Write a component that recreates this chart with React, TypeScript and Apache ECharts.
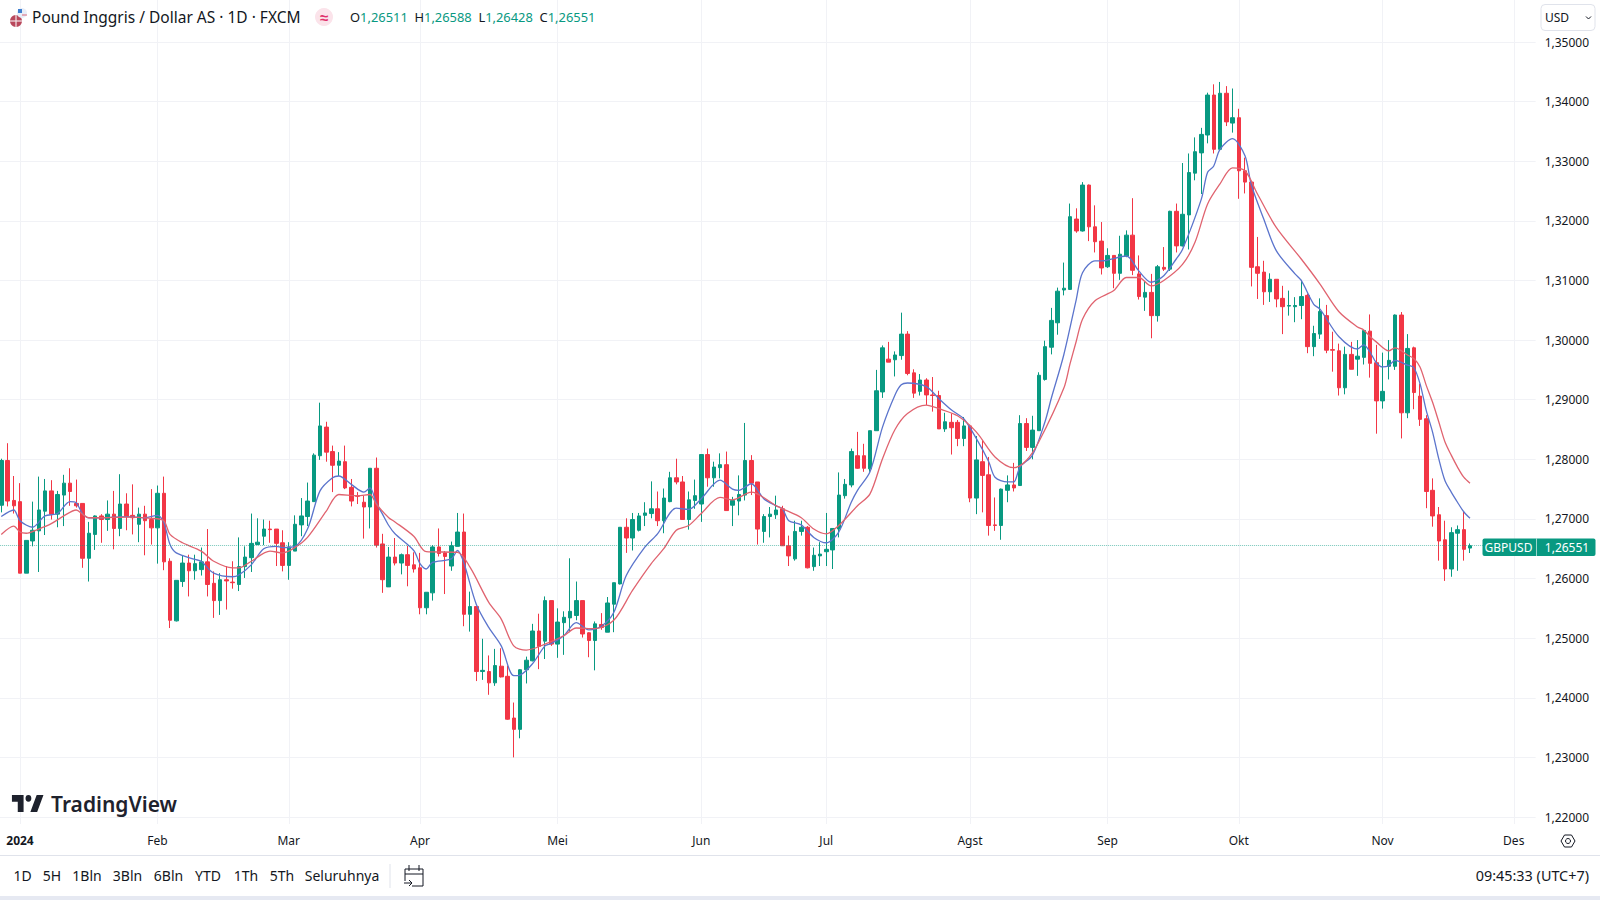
import React, { useEffect, useRef } from "react";
import * as echarts from "echarts";

const FONT = "'Noto Sans', sans-serif";
const UP = "#089981";
const DOWN = "#f23645";
const FAST = "#5b74cc";
const SLOW = "#e0636f";
const GRID = "#f1f2f6";
const INK = "#131722";

// [open, high, low, close], one row per trading day, first row = 27 Dec 2023
const ohlc: number[][] = [
  [1.2723,1.2801,1.2711,1.2798],[1.2798,1.2827,1.2721,1.2730],[1.2731,1.2772,1.2709,1.2722],
  // Jan
  [1.2729,1.2760,1.2609,1.2609],[1.2609,1.2664,1.2609,1.2664],[1.2663,1.2729,1.2654,1.2681],[1.2680,1.2771,1.2611,1.2715],
  [1.2713,1.2767,1.2673,1.2747],[1.2747,1.2765,1.2699,1.2708],[1.2708,1.2747,1.2686,1.2741],[1.2740,1.2774,1.2688,1.2760],
  [1.2760,1.2785,1.2722,1.2746],[1.2726,1.2766,1.2719,1.2722],[1.2726,1.2726,1.2618,1.2634],[1.2634,1.2695,1.2595,1.2676],
  [1.2674,1.2706,1.2648,1.2705],[1.2705,1.2708,1.2660,1.2699],[1.2699,1.2731,1.2680,1.2708],[1.2708,1.2747,1.2649,1.2684],
  [1.2684,1.2775,1.2671,1.2725],[1.2725,1.2743,1.2681,1.2704],[1.2706,1.2758,1.2674,1.2702],[1.2691,1.2719,1.2661,1.2708],
  // Feb
  [1.2708,1.2722,1.2639,1.2697],[1.2699,1.2750,1.2657,1.2685],[1.2685,1.2756,1.2625,1.2743],[1.2743,1.2771,1.2614,1.2628],
  [1.2629,1.2634,1.2517,1.2530],[1.2529,1.2597,1.2528,1.2597],[1.2595,1.2639,1.2586,1.2626],[1.2626,1.2640,1.2570,1.2613],
  [1.2613,1.2640,1.2598,1.2625],[1.2615,1.2652,1.2605,1.2628],[1.2628,1.2683,1.2570,1.2590],[1.2592,1.2612,1.2534,1.2563],
  [1.2563,1.2609,1.2539,1.2598],[1.2598,1.2621,1.2548,1.2596],[1.2594,1.2629,1.2583,1.2593],[1.2590,1.2669,1.2579,1.2620],
  [1.2620,1.2654,1.2601,1.2636],[1.2635,1.2709,1.2611,1.2659],[1.2657,1.2701,1.2656,1.2661],[1.2671,1.2699,1.2656,1.2683],
  [1.2683,1.2697,1.2660,1.2682],
  // Mar
  [1.2683,1.2683,1.2621,1.2659],[1.2660,1.2681,1.2612,1.2622],[1.2622,1.2661,1.2598,1.2653],[1.2646,1.2706,1.2646,1.2691],
  [1.2690,1.2735,1.2671,1.2705],[1.2704,1.2761,1.2688,1.2730],[1.2729,1.2810,1.2729,1.2807],[1.2806,1.2895,1.2799,1.2856],
  [1.2854,1.2863,1.2796,1.2812],[1.2813,1.2823,1.2745,1.2790],[1.2790,1.2812,1.2772,1.2797],[1.2796,1.2823,1.2750,1.2752],
  [1.2753,1.2767,1.2721,1.2730],[1.2739,1.2745,1.2725,1.2738],[1.2728,1.2739,1.2667,1.2720],[1.2720,1.2785,1.2684,1.2785],
  [1.2785,1.2803,1.2652,1.2656],[1.2658,1.2675,1.2576,1.2598],[1.2586,1.2653,1.2586,1.2636],[1.2636,1.2668,1.2622,1.2626],
  [1.2626,1.2642,1.2607,1.2640],
  // Apr
  [1.2640,1.2655,1.2587,1.2622],[1.2623,1.2644,1.2610,1.2616],[1.2618,1.2643,1.2540,1.2551],[1.2551,1.2577,1.2540,1.2577],
  [1.2576,1.2656,1.2563,1.2653],[1.2653,1.2684,1.2637,1.2642],[1.2643,1.2646,1.2574,1.2637],[1.2621,1.2662,1.2613,1.2655],
  [1.2654,1.2710,1.2654,1.2678],[1.2678,1.2709,1.2520,1.2540],[1.2540,1.2578,1.2511,1.2553],[1.2553,1.2553,1.2428,1.2444],
  [1.2444,1.2499,1.2430,1.2446],[1.2444,1.2471,1.2405,1.2425],[1.2425,1.2482,1.2420,1.2454],[1.2453,1.2483,1.2434,1.2435],
  [1.2436,1.2454,1.2363,1.2364],[1.2366,1.2392,1.2300,1.2347],[1.2347,1.2448,1.2332,1.2447],[1.2447,1.2469,1.2424,1.2463],
  [1.2462,1.2524,1.2461,1.2512],[1.2512,1.2541,1.2448,1.2486],
  // Mei
  [1.2495,1.2570,1.2465,1.2563],[1.2563,1.2563,1.2487,1.2490],[1.2490,1.2550,1.2467,1.2527],[1.2526,1.2545,1.2472,1.2535],
  [1.2534,1.2634,1.2510,1.2545],[1.2538,1.2595,1.2530,1.2563],[1.2563,1.2563,1.2501,1.2507],[1.2509,1.2510,1.2468,1.2496],
  [1.2496,1.2528,1.2446,1.2524],[1.2523,1.2542,1.2514,1.2518],[1.2510,1.2569,1.2510,1.2559],[1.2557,1.2593,1.2510,1.2593],
  [1.2591,1.2686,1.2590,1.2686],[1.2686,1.2701,1.2643,1.2668],[1.2668,1.2710,1.2647,1.2699],[1.2681,1.2710,1.2679,1.2705],
  [1.2706,1.2728,1.2688,1.2710],[1.2709,1.2763,1.2701,1.2717],[1.2717,1.2746,1.2688,1.2697],[1.2697,1.2751,1.2676,1.2735],
  [1.2729,1.2779,1.2728,1.2769],[1.2769,1.2801,1.2758,1.2762],[1.2762,1.2772,1.2699,1.2699],
  // Jun
  [1.2699,1.2746,1.2682,1.2732],[1.2731,1.2766,1.2717,1.2739],[1.2725,1.2808,1.2695,1.2808],[1.2808,1.2818,1.2754,1.2769],
  [1.2769,1.2796,1.2754,1.2787],[1.2786,1.2810,1.2768,1.2791],[1.2791,1.2813,1.2714,1.2714],[1.2723,1.2737,1.2688,1.2731],
  [1.2730,1.2773,1.2706,1.2741],[1.2740,1.2861,1.2731,1.2798],[1.2798,1.2807,1.2740,1.2760],[1.2762,1.2762,1.2657,1.2683],
  [1.2679,1.2708,1.2660,1.2704],[1.2704,1.2720,1.2669,1.2708],[1.2707,1.2739,1.2700,1.2715],[1.2717,1.2722,1.2655,1.2655],
  [1.2655,1.2672,1.2621,1.2638],[1.2633,1.2697,1.2630,1.2679],[1.2679,1.2697,1.2672,1.2686],[1.2686,1.2688,1.2617,1.2618],
  // Jul
  [1.2620,1.2652,1.2613,1.2639],[1.2638,1.2661,1.2621,1.2641],[1.2645,1.2710,1.2621,1.2649],[1.2648,1.2684,1.2616,1.2684],
  [1.2683,1.2778,1.2669,1.2740],[1.2739,1.2767,1.2734,1.2758],[1.2757,1.2818,1.2753,1.2813],[1.2806,1.2846,1.2784,1.2785],
  [1.2806,1.2826,1.2779,1.2785],[1.2784,1.2848,1.2779,1.2848],[1.2848,1.2950,1.2848,1.2915],[1.2913,1.2991,1.2903,1.2987],
  [1.2968,1.2997,1.2963,1.2963],[1.2967,1.2981,1.2939,1.2975],[1.2974,1.3046,1.2967,1.3010],[1.3010,1.3015,1.2941,1.2944],
  [1.2945,1.2951,1.2903,1.2911],[1.2914,1.2943,1.2907,1.2933],[1.2933,1.2936,1.2891,1.2908],[1.2908,1.2938,1.2880,1.2907],
  [1.2907,1.2915,1.2851,1.2851],[1.2851,1.2878,1.2846,1.2863],[1.2862,1.2877,1.2808,1.2853],
  // Agst
  [1.2862,1.2866,1.2822,1.2835],[1.2835,1.2871,1.2822,1.2856],[1.2856,1.2858,1.2728,1.2735],[1.2735,1.2839,1.2708,1.2799],
  [1.2796,1.2832,1.2711,1.2773],[1.2774,1.2804,1.2672,1.2689],[1.2690,1.2736,1.2680,1.2689],[1.2689,1.2751,1.2665,1.2750],
  [1.2748,1.2773,1.2728,1.2757],[1.2757,1.2794,1.2746,1.2752],[1.2756,1.2874,1.2756,1.2860],[1.2860,1.2869,1.2814,1.2820],
  [1.2820,1.2873,1.2800,1.2849],[1.2848,1.2946,1.2848,1.2941],[1.2934,1.2999,1.2932,1.2989],[1.2988,1.3054,1.2976,1.3033],
  [1.3029,1.3088,1.3009,1.3082],[1.3084,1.3130,1.3075,1.3087],[1.3085,1.3229,1.3084,1.3207],[1.3203,1.3221,1.3180,1.3183],
  [1.3183,1.3265,1.3182,1.3260],[1.3260,1.3261,1.3166,1.3190],
  // Sep
  [1.3190,1.3226,1.3147,1.3165],[1.3166,1.3198,1.3110,1.3121],[1.3123,1.3154,1.3121,1.3142],[1.3142,1.3142,1.3087,1.3112],
  [1.3112,1.3175,1.3101,1.3144],[1.3141,1.3184,1.3139,1.3176],[1.3176,1.3238,1.3109,1.3117],[1.3111,1.3142,1.3068,1.3073],
  [1.3072,1.3099,1.3049,1.3080],[1.3080,1.3111,1.3003,1.3041],[1.3041,1.3126,1.3031,1.3123],[1.3122,1.3156,1.3116,1.3119],
  [1.3119,1.3217,1.3116,1.3216],[1.3216,1.3229,1.3147,1.3158],[1.3158,1.3297,1.3157,1.3211],[1.3210,1.3313,1.3152,1.3281],
  [1.3280,1.3340,1.3268,1.3316],[1.3314,1.3356,1.3245,1.3345],[1.3344,1.3415,1.3330,1.3411],[1.3411,1.3429,1.3313,1.3320],
  [1.3320,1.3433,1.3320,1.3414],
  // Okt
  [1.3414,1.3426,1.3359,1.3366],[1.3364,1.3422,1.3348,1.3373],[1.3373,1.3388,1.3237,1.3284],[1.3284,1.3306,1.3246,1.3265],
  [1.3265,1.3267,1.3090,1.3122],[1.3123,1.3173,1.3069,1.3112],[1.3114,1.3133,1.3059,1.3081],[1.3081,1.3112,1.3064,1.3102],
  [1.3102,1.3102,1.3055,1.3069],[1.3070,1.3091,1.3010,1.3056],[1.3057,1.3083,1.3041,1.3058],[1.3056,1.3072,1.3030,1.3058],
  [1.3058,1.3101,1.3035,1.3073],[1.3075,1.3078,1.2978,1.2989],[1.2989,1.3024,1.2973,1.3011],[1.3010,1.3070,1.3002,1.3048],
  [1.3041,1.3059,1.2978,1.2983],[1.2984,1.3014,1.2947,1.2983],[1.2982,1.2994,1.2907,1.2920],[1.2920,1.2989,1.2909,1.2976],
  [1.2976,1.2997,1.2951,1.2951],[1.2968,1.3000,1.2940,1.2973],[1.2971,1.3017,1.2959,1.3016],
  // Nov
  [1.3015,1.3043,1.2937,1.2961],[1.2962,1.2992,1.2843,1.2898],[1.2898,1.2979,1.2885,1.2914],[1.2956,1.3000,1.2934,1.2966],
  [1.2956,1.3043,1.2950,1.3042],[1.3042,1.3047,1.2835,1.2878],[1.2878,1.3010,1.2869,1.2986],[1.2987,1.2989,1.2884,1.2912],
  [1.2906,1.2927,1.2856,1.2867],[1.2868,1.2874,1.2718,1.2746],[1.2748,1.2768,1.2687,1.2705],[1.2707,1.2720,1.2630,1.2663],
  [1.2665,1.2697,1.2596,1.2616],[1.2616,1.2686,1.2603,1.2677],[1.2676,1.2689,1.2613,1.2682],[1.2682,1.2712,1.2630,1.2649],
  [1.26511,1.26588,1.26428,1.26551],
];

// Moving averages: [trading-day number counted from 2 Jan 2024, price]
const fastMa: [number, number][] = [
  [-3,1.2704],[-1,1.2715],[0,1.2697],[2,1.2686],[4,1.2705],[6,1.2709],[8,1.2729],[9,1.2727],[10,1.2709],[11,1.2702],[13,1.2702],[17,1.2704],[20,1.2702],[22,1.2706],[23,1.2694],[24,1.2657],[25,1.2643],[28,1.2632],[29,1.2629],[31,1.2609],[34,1.2603],[35,1.2606],[37,1.2623],[39,1.2650],[41,1.2654],[42,1.2652],[44,1.2654],[46,1.2683],[48,1.2747],[50,1.2769],[51,1.2772],[53,1.2758],[55,1.2745],[56,1.2752],[57,1.2727],[58,1.2708],[59,1.2689],[60,1.2675],[63,1.2647],[64,1.2625],[65,1.2616],[66,1.2627],[69,1.2633],[70,1.2647],[71,1.2627],[73,1.2557],[75,1.2518],[77,1.2487],[79,1.2437],[80,1.2438],[82,1.2457],[84,1.2487],[85,1.2491],[87,1.2504],[89,1.2526],[91,1.2514],[93,1.2520],[95,1.2543],[97,1.2605],[100,1.2653],[102,1.2675],[105,1.2718],[107,1.2716],[109,1.2734],[112,1.2765],[114,1.2750],[115,1.2748],[117,1.2759],[119,1.2734],[121,1.2722],[122,1.2717],[123,1.2697],[125,1.2690],[127,1.2669],[129,1.2660],[131,1.2678],[133,1.2728],[134,1.2748],[136,1.2779],[138,1.2854],[140,1.2908],[141,1.2925],[142,1.2928],[145,1.2922],[147,1.2902],[149,1.2883],[151,1.2868],[153,1.2835],[155,1.2796],[156,1.2770],[158,1.2762],[159,1.2762],[160,1.2787],[162,1.2807],[164,1.2863],[165,1.2902],[167,1.2975],[169,1.3068],[170,1.3113],[172,1.3133],[173,1.3133],[177,1.3141],[179,1.3116],[181,1.3097],[183,1.3108],[185,1.3136],[186,1.3152],[189,1.3236],[190,1.3281],[191,1.3292],[192,1.3320],[194,1.3338],[196,1.3309],[197,1.3261],[199,1.3203],[201,1.3150],[204,1.3111],[205,1.3100],[207,1.3060],[208,1.3052],[211,1.3006],[214,1.2985],[215,1.2992],[216,1.2980],[217,1.2962],[218,1.2955],[219,1.2957],[220,1.2966],[222,1.2958],[223,1.2954],[224,1.2927],[225,1.2882],[226,1.2846],[227,1.2801],[228,1.2764],[229,1.2745],[230,1.2728],[231,1.2712],[232,1.2701],
];
const slowMa: [number, number][] = [
  [-3,1.2674],[-1,1.2688],[0,1.2678],[1,1.2676],[3,1.2683],[5,1.2692],[7,1.2705],[9,1.2715],[10,1.2708],[11,1.2702],[13,1.2702],[17,1.2703],[21,1.2701],[23,1.2697],[24,1.2674],[26,1.2660],[29,1.2646],[31,1.2629],[34,1.2618],[35,1.2618],[37,1.2629],[40,1.2646],[42,1.2643],[44,1.2652],[46,1.2669],[49,1.2713],[51,1.2741],[54,1.2739],[56,1.2741],[57,1.2725],[59,1.2702],[60,1.2695],[63,1.2671],[65,1.2645],[70,1.2644],[72,1.2619],[75,1.2560],[77,1.2532],[79,1.2487],[81,1.2480],[84,1.2490],[87,1.2504],[89,1.2517],[92,1.2516],[95,1.2530],[98,1.2580],[101,1.2625],[103,1.2650],[105,1.2681],[107,1.2689],[109,1.2709],[112,1.2736],[114,1.2732],[117,1.2745],[121,1.2722],[122,1.2717],[125,1.2702],[127,1.2683],[129,1.2675],[131,1.2689],[134,1.2722],[136,1.2742],[138,1.2801],[140,1.2850],[142,1.2877],[145,1.2891],[147,1.2885],[150,1.2873],[153,1.2846],[156,1.2804],[159,1.2786],[161,1.2798],[163,1.2829],[167,1.2919],[168,1.2960],[169,1.2998],[170,1.3035],[172,1.3066],[175,1.3083],[177,1.3105],[179,1.3105],[181,1.3091],[183,1.3100],[186,1.3127],[188,1.3164],[190,1.3228],[192,1.3262],[194,1.3289],[196,1.3284],[198,1.3245],[201,1.3189],[205,1.3136],[208,1.3094],[211,1.3048],[214,1.3022],[215,1.3017],[216,1.3006],[217,1.2997],[219,1.2982],[220,1.2987],[222,1.2975],[223,1.2969],[224,1.2955],[225,1.2924],[226,1.2896],[227,1.2863],[228,1.2829],[229,1.2807],[230,1.2787],[231,1.2770],[232,1.2760],
];

const LEAD_DAYS = 3; // rows before 2 Jan 2024
const CATEGORY_COUNT = 246;
const lastPrice = 1.26551;

const tickDates = ["2024-01-02","2024-02-01","2024-03-01","2024-04-01","2024-05-01","2024-06-03","2024-07-01","2024-08-01","2024-09-02","2024-10-01","2024-11-01","2024-12-02"];
const tickLabels = ["2024","Feb","Mar","Apr","Mei","Jun","Jul","Agst","Sep","Okt","Nov","Des"];
const rangeLabels = ["1D","5H","1Bln","3Bln","6Bln","YTD","1Th","5Th","Seluruhnya"];
const rangeCenters = [22.5,52,87,127.5,168.5,208,246,282,342];

const pad = (n: number) => String(n).padStart(2, "0");
const categories: string[] = [];
for (let d = new Date(Date.UTC(2023, 11, 27)); categories.length < CATEGORY_COUNT; d = new Date(d.getTime() + 864e5)) {
  const wd = d.getUTCDay();
  const s = `${d.getUTCFullYear()}-${pad(d.getUTCMonth() + 1)}-${pad(d.getUTCDate())}`;
  if (wd !== 0 && wd !== 6 && s !== "2024-01-01") categories.push(s);
}
const tickIndex = new Set(tickDates.map((d) => categories.indexOf(d)));

const LOGO = "M14 6H2v6h6v9h6V6zm14 15h-7l6.5-15h7L28 21zm-9-9a3 3 0 1 0 0-6 3 3 0 0 0 0 6z";
const CAL = "M1 5h18v17H8M1 5v12M1 10h18M5 1v6M15 1v6M0 19h8M5 16l3 3l-3 3";

// The chart canvas starts this far left of the page, so the first candle band can be cut by the page edge.
const BLEED = 10;

export default function App() {
  const ref = useRef<HTMLDivElement>(null);
  useEffect(() => {
    echarts.graphic.registerShape("tvLogo", echarts.graphic.extendPath(LOGO as any, {}) as any);
    echarts.graphic.registerShape("calIcon", echarts.graphic.extendPath(CAL as any, {}) as any);
    const chart = echarts.init(ref.current!, undefined, { renderer: "svg" });
    const plotLeft = BLEED - 1.875;
    const plotWidth = CATEGORY_COUNT * 6.25;
    const text = (x: number, y: number, t: string, font: string, extra: any = {}) => ({
      type: "text", x, y, z: 100,
      style: { text: t, font: `${font} ${FONT}`, fill: INK, textVerticalAlign: "middle", ...extra },
    });
    chart.setOption({
      animation: false,
      backgroundColor: "#ffffff",
      grid: [
        { left: plotLeft, width: plotWidth, top: 42, height: 775 },
        { left: plotLeft, width: plotWidth, top: 0, height: 824 },
      ],
      xAxis: [
        { type: "category", gridIndex: 0, data: categories, show: false },
        {
          type: "category", gridIndex: 1, data: categories,
          axisLine: { show: false }, axisTick: { show: false },
          splitLine: { show: true, alignWithLabel: true, interval: (i: number) => tickIndex.has(i), lineStyle: { color: GRID, width: 1 } },
          axisLabel: {
            interval: (i: number) => tickIndex.has(i),
            hideOverlap: false, margin: 10, fontFamily: FONT, fontSize: 12, color: INK,
            formatter: (v: string) => {
              const l = tickLabels[tickDates.indexOf(v)] ?? "";
              return l === "2024" ? `{b|${l}}` : l;
            },
            rich: { b: { fontFamily: FONT, fontSize: 12, fontWeight: "bold", color: INK } },
          },
        },
      ],
      yAxis: [
        {
          type: "value", gridIndex: 0, position: "right", min: 1.22, max: 1.35, interval: 0.01,
          axisLine: { show: false }, axisTick: { show: false },
          splitLine: { show: true, lineStyle: { color: GRID, width: 1 } },
          axisLabel: { margin: 9, fontFamily: FONT, fontSize: 12, color: INK, formatter: (v: number) => v.toFixed(5).replace(".", ",") },
        },
        { type: "value", gridIndex: 1, show: false, min: 0, max: 1, splitLine: { show: false } },
      ],
      series: [
        {
          type: "candlestick", name: "GBPUSD", xAxisIndex: 0, yAxisIndex: 0, barWidth: 4, z: 3,
          data: ohlc.map(([o, h, l, c]) => [o, c, l, h]),
          itemStyle: { color: UP, color0: DOWN, borderColor: UP, borderColor0: DOWN, borderWidth: 1 },
          markLine: {
            silent: true, symbol: "none", animation: false, precision: 5, label: { show: false },
            lineStyle: { color: UP, type: "dotted", width: 1, opacity: 0.55 },
            data: [{ yAxis: lastPrice }],
          },
        },
        {
          type: "line", name: "MA cepat", xAxisIndex: 0, yAxisIndex: 0, showSymbol: false, z: 4, smooth: 0.3,
          data: fastMa.map(([i, v]) => [i + LEAD_DAYS, v]), lineStyle: { color: FAST, width: 1.3 },
        },
        {
          type: "line", name: "MA lambat", xAxisIndex: 0, yAxisIndex: 0, showSymbol: false, z: 4, smooth: 0.3,
          data: slowMa.map(([i, v]) => [i + LEAD_DAYS, v]), lineStyle: { color: SLOW, width: 1.3 },
        },
      ],
      graphic: [{
        type: "group", x: BLEED, y: 0, z: 100,
        children: [
          // flags
          { type: "circle", z: 100, shape: { cx: 16, cy: 21, r: 6 }, style: { fill: "#b9485c" } },
          { type: "line", z: 100, shape: { x1: 10, y1: 21, x2: 22, y2: 21 }, style: { stroke: "#f3e6e8", lineWidth: 1.2 } },
          { type: "line", z: 100, shape: { x1: 16, y1: 15, x2: 16, y2: 27 }, style: { stroke: "#f3e6e8", lineWidth: 1.2 } },
          { type: "circle", z: 100, shape: { cx: 22, cy: 13, r: 5 }, style: { fill: "#e8eef8" } },
          { type: "rect", z: 100, shape: { x: 18, y: 9, width: 4, height: 4 }, style: { fill: "#3f7fd0" } },
          { type: "line", z: 100, shape: { x1: 22, y1: 15, x2: 27, y2: 15 }, style: { stroke: "#d8677a", lineWidth: 1 } },
          text(32, 17, "Pound Inggris / Dollar AS · 1D · FXCM", "15.5px"),
          { type: "circle", z: 100, shape: { cx: 324, cy: 17, r: 9 }, style: { fill: "#fbe3ea" } },
          text(324, 17, "≈", "bold 15px", { fill: "#e0306a", textAlign: "center" }),
          {
            type: "text", x: 350, y: 17, z: 100,
            style: {
              text: "{k|O}{v|1,26511}  {k|H}{v|1,26588}  {k|L}{v|1,26428}  {k|C}{v|1,26551}",
              textVerticalAlign: "middle",
              font: `12.9px ${FONT}`,
              rich: {
                k: { fontSize: 12.9, fontFamily: FONT, fill: INK },
                v: { fontSize: 12.9, fontFamily: FONT, fill: UP },
              },
            },
          },
          // currency box
          { type: "rect", z: 100, shape: { x: 1541, y: 4.5, width: 54, height: 26, r: 4 }, style: { fill: "#fff", stroke: "#e0e3eb", lineWidth: 1 } },
          text(1545, 17.5, "USD", "12px"),
          { type: "polyline", z: 100, shape: { points: [[1586, 16.5], [1588.5, 19], [1591, 16.5]] }, style: { stroke: INK, fill: "none", lineWidth: 1 } },
          // last price tag
          { type: "rect", z: 100, shape: { x: 1482.5, y: 538.5, width: 113, height: 17.5, r: 2 }, style: { fill: UP } },
          { type: "line", z: 101, shape: { x1: 1536.5, y1: 538.5, x2: 1536.5, y2: 556 }, style: { stroke: "#ffffff", opacity: 0.6, lineWidth: 1 } },
          text(1508.5, 547.5, "GBPUSD", "12px", { fill: "#fff", textAlign: "center" }),
          text(1567, 547.5, "1,26551", "12px", { fill: "#fff", textAlign: "center" }),
          // watermark
          { type: "tvLogo", z: 100, x: 10, y: 788.2, scaleX: 0.97, scaleY: 1.13, style: { fill: "#1e222d" } },
          text(51, 804, "TradingView", "600 21px", { fill: "#1e222d" }),
          // footer
          { type: "line", z: 100, shape: { x1: -10, y1: 855.5, x2: 1600, y2: 855.5 }, style: { stroke: "#e0e3eb", lineWidth: 1 } },
          ...rangeLabels.map((l, i) => text(rangeCenters[i], 875.5, l, "14px", { textAlign: "center" })),
          { type: "line", z: 100, shape: { x1: 390, y1: 864, x2: 390, y2: 888 }, style: { stroke: "#e0e3eb", lineWidth: 1 } },
          { type: "calIcon", z: 100, x: 404, y: 864, style: { fill: "none", stroke: INK, lineWidth: 1 } },
          text(1589, 875.5, "09:45:33 (UTC+7)", "14.4px", { textAlign: "right" }),
          { type: "rect", z: 100, shape: { x: -10, y: 896, width: 1610, height: 4 }, style: { fill: "#e6e9f2" } },
          // settings icon
          { type: "polygon", z: 100, shape: { points: [[1561, 841], [1564.5, 835], [1571.5, 835], [1575, 841], [1571.5, 847], [1564.5, 847]] }, style: { fill: "none", stroke: INK, lineWidth: 1 } },
          { type: "circle", z: 100, shape: { cx: 1568, cy: 841, r: 2.5 }, style: { fill: "none", stroke: INK, lineWidth: 1 } },
        ],
      }],
    });
    return () => chart.dispose();
  }, []);
  return (
    <div style={{ position: "absolute", left: 0, top: 0, width: 1600, height: 900, overflow: "hidden" }}>
      <div ref={ref} style={{ position: "absolute", left: -BLEED, top: 0, width: 1600 + BLEED, height: 900 }} />
    </div>
  );
}
